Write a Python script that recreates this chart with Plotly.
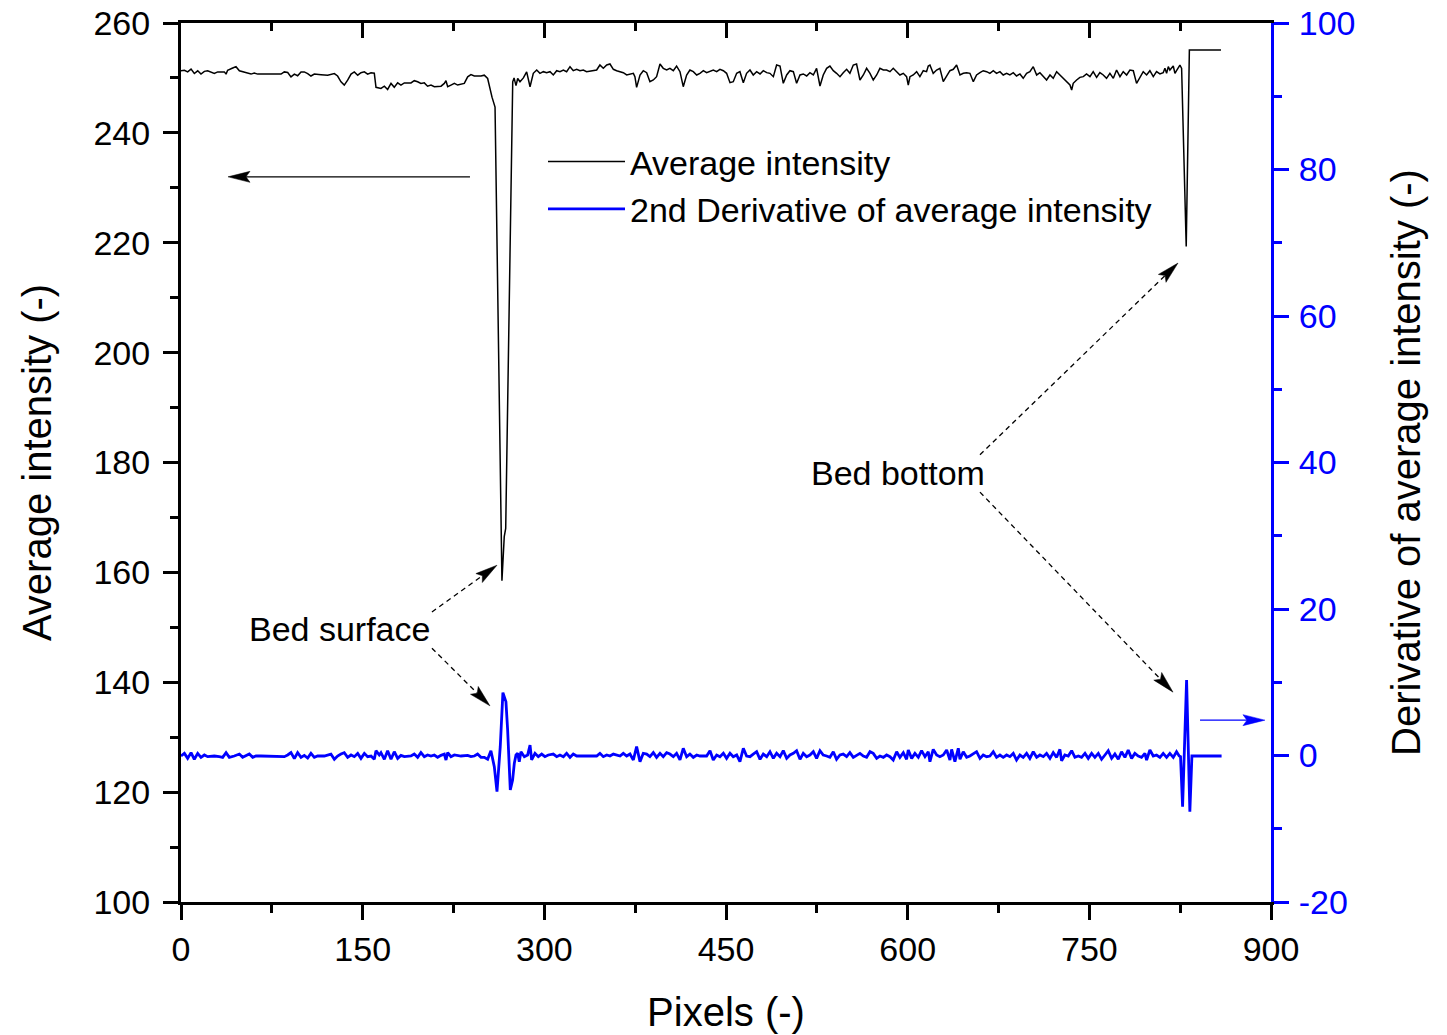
import plotly.graph_objects as go

# ---------------- data ----------------
intensity_x = [
    0, 2.8, 5.5, 8.3, 11.0, 13.8, 16.5, 19.3, 22.0, 24.8, 27.5, 30.3, 35.8, 37.2, 38.5, 42.7, 45.4, 48.2,
    52.3, 55.0, 57.8, 60.5, 63.3, 66.0, 82.6, 85.3, 88.1, 90.8, 93.6, 96.3, 99.1, 101.8, 104.6, 107.3,
    110.1, 115.6, 121.1, 126.6, 129.3, 132.1, 134.8, 137.6, 140.4, 143.1, 145.9, 148.6, 151.4, 154.1,
    156.9, 159.6, 161.0, 165.1, 167.9, 170.6, 173.4, 176.1, 178.9, 181.6, 184.4, 189.9, 192.6, 195.4,
    198.1, 200.9, 203.6, 206.4, 209.2, 214.7, 217.4, 218.8, 220.2, 222.9, 225.7, 228.4, 233.9, 236.7,
    239.4, 242.2, 247.7, 250.4, 253.2, 256.8, 259.3, 265.0, 266.9, 268.1, 273.9, 275.0, 276.6, 278.0,
    279.9, 282.7, 285.4, 288.2,
    290.9, 293.7, 296.4, 299.2, 301.9, 304.7, 307.4, 310.2, 312.9, 315.7, 318.4, 321.2, 323.9, 326.7,
    329.4, 332.2, 334.9, 343.2, 345.9, 348.7, 351.5, 354.2, 357.0, 359.7, 362.5, 365.2, 368.0, 370.7,
    373.5, 374.8, 376.2, 379.0, 381.7, 384.5, 387.2, 390.0, 392.7, 395.5, 398.2, 401.0, 403.7, 406.5,
    409.2, 412.0, 414.7, 417.5, 420.2, 423.0, 425.8, 428.5, 431.3, 434.0, 436.8, 439.5, 442.3, 445.0,
    447.8, 450.5, 453.3, 456.0, 458.8, 461.5, 464.3, 467.0, 469.8, 472.5, 475.3, 478.1, 480.8, 483.6,
    486.3, 489.1, 491.8, 494.6, 497.3, 500.1, 502.8, 505.6, 508.3, 511.1, 513.8, 516.6, 519.3, 522.1,
    524.8, 527.6, 530.3, 533.1, 535.8, 538.6, 541.3, 544.1, 546.8, 549.6, 552.3, 555.1, 557.8,
    560.6, 563.4, 566.1, 568.9, 571.6, 574.4, 577.1, 579.9, 582.6, 585.4, 588.1, 590.9, 593.6, 596.4,
    599.1, 600.5, 601.9, 604.6, 607.4, 610.1, 612.9, 615.6, 617.0, 618.4, 621.1, 623.9, 626.6, 629.4,
    632.2, 634.9, 637.7, 640.4, 643.2, 645.9, 648.7, 651.4, 654.2, 656.9, 659.7, 662.4, 665.2, 667.9,
    670.7, 673.4, 676.2, 678.9, 681.7, 684.4, 687.2, 689.9, 692.7, 695.4, 698.2, 700.9, 703.7, 706.5,
    709.2, 712.0, 714.7, 717.5, 720.2, 723.0, 725.7, 728.5, 731.2, 734.0, 735.4, 736.7, 739.5, 742.2,
    745.0, 747.7, 750.5, 753.2, 756.0, 758.7, 761.5, 764.2, 767.0, 769.8, 772.5, 775.3, 778.0, 780.8,
    783.5, 786.3, 789.0, 791.8, 794.5, 797.3, 800.0, 802.8, 805.5, 808.3, 811.0, 812.4, 813.8, 815.2,
    816.5, 819.3, 820.7, 822.0, 824.8, 826.2, 830.0, 832.6, 858.7,
]
intensity_y = [
    251.3, 251.4, 251.1, 251.6, 250.8, 251.3, 250.7, 251.2, 251.3, 251.1, 250.8, 251.1, 251.1, 250.7, 251.4, 251.8, 252.05, 251.3,
    251.1, 250.9, 250.7, 250.9, 250.7, 250.7, 250.7, 251.1, 251.0, 250.2, 250.7, 250.4, 251.1, 251.1, 250.8, 250.35,
    250.7, 250.6, 250.5, 250.8, 250.35, 249.3, 248.7, 249.6, 250.7, 251.1, 250.5, 250.95, 251.1, 250.7,
    250.95, 250.85, 248.3, 248.1, 248.5, 247.9, 249.0, 248.3, 249.1, 248.7, 249.1, 249.1, 249.5, 249.3,
    249.0, 249.1, 248.5, 248.7, 248.4, 248.5, 249.0, 249.5, 248.4, 248.7, 249.0, 248.7, 249.0, 250.2,
    250.6, 250.35, 250.35, 250.5, 249.9, 246.5, 244.7, 158.5, 166.5, 168.0, 249.3, 250.0, 248.6, 249.9,
    249.3, 250.0, 251.1, 248.4,
    250.84, 251.44, 250.84, 251.14, 250.96, 251.14, 250.54, 251.32, 251.14, 251.44, 251.14, 252.05, 251.32, 251.57,
    251.32, 251.44, 251.14, 251.44, 252.35, 251.75, 252.35, 252.54, 251.57, 251.32, 251.14, 250.96, 250.54, 250.72,
    250.84, 250.23, 248.29, 250.54, 251.32, 250.96, 249.32, 249.63, 250.23, 252.54, 251.75, 251.44, 251.75, 251.32,
    252.17, 251.14, 248.41, 250.54, 251.44, 251.14, 250.54, 250.84, 251.32, 250.96, 251.14, 251.44, 251.14, 251.57,
    251.32, 250.84, 249.14, 249.32, 250.84, 251.14, 249.14, 250.84, 251.44, 250.54, 251.14, 250.72, 251.32, 250.96,
    250.84, 250.23, 252.35, 252.17, 249.02, 250.54, 251.32, 251.14, 249.02, 250.54, 250.72, 250.35, 250.96, 250.54,
    251.75, 248.53, 250.54, 251.75, 252.17, 251.32, 250.84, 250.23, 250.96, 251.57, 250.84, 252.35, 252.54,
    249.63, 250.54, 251.75, 250.84, 249.63, 250.54, 251.75, 251.44, 251.44, 251.14, 251.75, 251.14, 250.54, 250.84,
    250.23, 248.71, 250.23, 250.54, 251.14, 250.23, 251.32, 251.14, 252.17, 252.35, 250.84, 251.44, 251.75, 249.32,
    250.23, 251.32, 251.57, 252.35, 250.54, 250.84, 250.96, 250.84, 249.32, 250.54, 250.96, 251.32, 251.14, 250.84,
    251.32, 250.84, 251.14, 250.54, 250.84, 250.54, 250.96, 250.35, 250.72, 249.93, 250.84, 251.14, 252.05, 250.54,
    250.96, 250.23, 249.63, 250.54, 249.93, 251.14, 250.54, 249.93, 249.32, 248.71, 247.80, 249.02, 249.63, 250.11,
    250.23, 250.72, 250.23, 251.14, 250.11, 250.96, 250.54, 249.93, 250.84, 249.93, 251.44, 250.23, 251.14, 250.54,
    251.44, 251.32, 249.02, 250.23, 251.14, 250.54, 251.32, 250.23, 251.14, 250.72, 250.96, 251.75, 250.84, 252.05,
    251.44, 252.17, 250.84, 251.32, 252.35, 251.75, 219.3, 255.1, 255.1,
]

deriv_x = [
    0, 2.8, 5.5, 8.3, 11.0, 13.8, 16.5, 19.3, 22.0, 24.8, 27.5, 31.6, 34.4, 37.2, 39.9, 44.0, 48.2, 50.9,
    53.7, 56.4, 59.2, 61.9, 66.0, 82.6, 85.3, 88.1, 90.8, 93.6, 96.3, 99.1, 101.8, 104.6, 107.3, 110.1,
    112.8, 118.3, 123.8, 126.6, 129.3, 132.1, 134.8, 137.6, 140.4, 143.1, 145.9, 148.6, 151.4, 154.1,
    156.9, 159.6, 161.0, 163.7, 165.1, 167.9, 170.6, 173.4, 176.1, 178.9, 181.6, 184.4, 189.9, 192.6,
    195.4, 198.1, 200.9, 203.6, 206.4, 209.2, 211.9, 214.7, 217.4, 218.8, 220.2, 222.9, 225.7, 231.2,
    236.7, 239.4, 242.2, 244.9, 247.7, 250.4, 253.2, 255.9, 258.7, 260.9, 263.6, 265.8, 268.3, 269.7,
    271.9, 273.8, 275.2, 276.6, 278.0, 279.3, 280.7, 283.5, 286.2, 288.2, 289.5,
    292.3, 295.0, 297.8, 300.5, 303.3, 307.4, 310.2, 312.9, 315.7, 318.4, 321.2, 323.9, 326.7, 332.2,
    343.2, 345.9, 348.7, 351.5, 354.2, 357.0, 359.7, 362.5, 365.2, 368.0, 370.7, 373.5, 376.2, 379.0,
    381.7, 384.5, 387.2, 390.0, 392.7, 395.5, 398.2, 401.0, 403.7, 406.5, 409.2, 412.0, 414.7, 417.5,
    420.2, 423.0, 425.8, 428.5, 434.0, 436.8, 439.5, 442.3, 445.0, 447.8, 450.5, 453.3, 456.0, 458.8,
    461.5, 464.3, 467.0, 469.8, 472.5, 475.3, 478.1, 480.8, 483.6, 486.3, 489.1, 491.8, 494.6, 497.3,
    500.1, 502.8, 505.6, 508.3, 511.1, 513.8, 516.6, 519.3, 522.1, 524.8, 527.6, 530.3, 533.1, 535.8,
    538.6, 541.3, 544.1, 546.8, 549.6, 552.3, 555.1, 557.8,
    560.6, 563.4, 566.1, 568.9, 571.6, 574.4, 577.1, 579.9, 582.6, 585.4, 588.1, 590.9, 593.6, 596.4,
    599.1, 600.5, 603.3, 606.0, 608.8, 611.5, 614.3, 617.0, 618.4, 621.1, 623.9, 626.6, 629.4, 632.2,
    634.9, 636.3, 639.0, 641.8, 643.2, 645.9, 648.7, 651.4, 656.9, 659.7, 662.4, 665.2, 667.9, 670.7,
    673.4, 676.2, 678.9, 681.7, 684.4, 687.2, 689.9, 692.7, 695.4, 698.2, 700.9, 703.7, 706.5, 709.2,
    712.0, 714.7, 717.5, 720.2, 723.0, 725.7, 727.1, 729.8, 732.6, 735.4, 738.1, 740.9, 743.6, 746.4,
    749.1, 751.9, 754.6, 757.4, 760.1, 762.9, 765.6, 768.4, 771.1, 773.9, 776.6, 779.4, 782.1, 784.9,
    787.6, 790.4, 793.1, 795.9, 797.3, 800.0, 802.8, 805.5, 808.3, 811.0, 813.8, 816.5, 819.3, 822.0,
    824.2, 825.3, 827.0, 830.3, 833.0, 834.7, 859.2,
]
deriv_y = [
    -0.07, 0.29, -0.39, 0.39, -0.52, 0.29, -0.25, 0.07, -0.16, -0.07, -0.07, -0.16, -0.25, 0.39, -0.25, -0.07, 0.2, -0.25,
    -0.07, 0.2, -0.25, -0.07, -0.07, -0.07, -0.16, 0.07, 0.39, -0.43, 0.39, -0.25, 0.02, -0.34, 0.29, -0.25,
    -0.07, -0.07, 0.2, -0.52, -0.07, 0.2, 0.39, -0.25, 0.07, -0.16, 0.29, -0.39, 0.29, -0.16,
    -0.07, -0.52, 0.66, 0.07, 0.39, -0.52, 0.66, -0.52, 0.52, -0.39, 0.02, -0.16, -0.07, 0.2,
    -0.25, 0.39, -0.16, 0.07, -0.07, 0.07, -0.25, 0.02, 0.2, -0.62, 0.39, -0.16, 0.07, -0.07,
    0.02, -0.16, -0.07, 0.2, -0.25, -0.25, -0.52, 0.66, -1.53, -4.94, 1.2, 8.58, 7.35, 3.48,
    -4.71, -3.35, -1.07, 0.07, 0.29, -0.84, 0.52, -0.16, 0.07, 1.43, -0.61,
    0.3, -0.16, 0.2, -0.16, 0.07, 0.2, -0.16, 0.07, -0.16, 0.3, -0.25, 0.2, -0.07, -0.07,
    -0.07, 0.3, -0.16, 0.07, -0.07, 0.2, 0.07, -0.07, 0.3, -0.07, 0.2, -0.61, 1.21, -0.84,
    0.3, 0.2, -0.16, 0.39, -0.25, 0.3, -0.16, 0.39, 0.2, -0.16, 0.3, -0.61, 0.98, -0.16,
    0.2, -0.25, 0.07, -0.07, -0.07, 0.66, -0.61, 0.07, -0.16, 0.3, -0.39, 0.3, -0.16, 0.07,
    -0.84, 0.98, -0.07, -0.16, 0.2, 0.52, -0.52, 0.2, -0.16, 0.52, -0.39, 0.3, -0.16, 0.66,
    -0.39, 0.07, 0.3, 0.66, -0.52, 0.3, -0.16, 0.07, 0.52, -0.39, 0.66, 0.07, -0.07, -0.25,
    0.52, -0.52, 0.07, 0.2, -0.16, 0.39, -0.25, 0.07,
    0.29, -0.07, -0.25, 0.52, 0.29, -0.39, -0.07, -0.25, 0.07, -0.16, -0.62, 0.52, -0.25, 0.39,
    -0.52, 0.75, -0.39, 0.29, -0.25, 0.66, -0.16, 0.52, -0.84, 0.84, 0.07, -0.16, 0.07, 0.75,
    -0.62, 0.84, -0.84, 0.98, -0.52, 0.52, -0.25, -0.07, 0.52, -0.39, 0.07, -0.16, -0.07, 0.52,
    -0.25, 0.07, -0.25, 0.07, -0.16, 0.29, -0.62, 0.07, -0.25, 0.29, -0.39, 0.52, -0.25, 0.07,
    -0.16, 0.29, -0.39, 0.39, -0.25, 0.84, -0.71, 0.07, -0.07, 0.66, -0.25, -0.07, -0.25, 0.29,
    -0.39, 0.29, -0.25, 0.29, -0.52, 0.07, 0.66, -0.39, 0.2, -0.52, 0.52, -0.25, 0.75, -0.39,
    0.29, -0.07, -0.25, 0.29, -0.62, 0.75, -0.07, 0.07, -0.25, 0.29, -0.25, 0.29, -0.25, 0.52,
    -0.07, -0.16, -6.99, 10.31, -7.67, -0.07, -0.07,
]

x_ticks = [0, 150, 300, 450, 600, 750, 900]
left_ticks = [100, 120, 140, 160, 180, 200, 220, 240, 260]
right_ticks = [-20, 0, 20, 40, 60, 80, 100]
right_tick_text = ["-20", "0", "20", "40", "60", "80", "100"]

# annotation arrows: (tail_x, tail_y, head_x, head_y) in x / left-y units
arrow_left = (238.6, 232.0, 38.8, 232.0)
arrow_right = (841.4, 133.1, 895.0, 133.1)
dashed_arrows = [
    (207.2, 152.8, 260.9, 161.3),
    (207.2, 146.2, 255.1, 135.7),
    (659.7, 181.4, 823.2, 216.3),
    (659.7, 174.6, 819.1, 138.2),
]
labels = [("Bed surface", 130.5, 149.7), ("Bed bottom", 592.0, 178.1)]

# ---------------- geometry helpers ----------------
W, H = 1447, 1035
ML, MR, MT, MB = 181, 176, 23, 133
PW, PH = W - ML - MR, H - MT - MB
XR, YR = (0, 900), (100, 260)


def to_px(x, y):
    return (ML + (x - XR[0]) / (XR[1] - XR[0]) * PW,
            MT + (YR[1] - y) / (YR[1] - YR[0]) * PH)


def to_data(px, py):
    return (XR[0] + (px - ML) / PW * (XR[1] - XR[0]),
            YR[1] - (py - MT) / PH * (YR[1] - YR[0]))


def arrow_shapes(tx, ty, hx, hy, color, dash, width=1.3, L=22, hw=5.5, notch=4):
    ax, ay = to_px(tx, ty)
    bx, by = to_px(hx, hy)
    dx, dy = bx - ax, by - ay
    n = (dx ** 2 + dy ** 2) ** 0.5
    ux, uy = dx / n, dy / n
    nx, ny = -uy, ux
    basex, basey = bx - L * ux, by - L * uy
    backx, backy = bx - (L - notch) * ux, by - (L - notch) * uy
    pts = [(bx, by), (basex + hw * nx, basey + hw * ny), (backx, backy), (basex - hw * nx, basey - hw * ny)]
    pts = [to_data(*p) for p in pts]
    path = "M " + " L ".join(f"{p[0]:.3f},{p[1]:.3f}" for p in pts) + " Z"
    lx, ly = to_data(backx, backy)
    return [
        dict(type="line", xref="x", yref="y", x0=tx, y0=ty, x1=lx, y1=ly,
             line=dict(color=color, width=width, dash=dash)),
        dict(type="path", xref="x", yref="y", path=path, fillcolor=color,
             line=dict(color=color, width=0.5)),
    ]


FONT = "Liberation Sans, Arial, sans-serif"
BLUE = "#0000FF"

fig = go.Figure()
fig.add_trace(go.Scatter(x=intensity_x, y=intensity_y, mode="lines", name="Average intensity",
                         line=dict(color="black", width=1.5)))
fig.add_trace(go.Scatter(x=deriv_x, y=deriv_y, mode="lines", name="2nd Derivative of average intensity",
                         line=dict(color=BLUE, width=2.8), yaxis="y2"))
# empty trace that carries the top (mirror) tick axis
fig.add_trace(go.Scatter(x=[None], y=[None], xaxis="x2", yaxis="y", mode="lines",
                         showlegend=False, hoverinfo="skip"))

shapes = []
shapes += arrow_shapes(*arrow_left, "black", "solid")
shapes += arrow_shapes(*arrow_right, BLUE, "solid")
for a in dashed_arrows:
    shapes += arrow_shapes(*a, "black", "5px,4px")

annotations = [dict(text=t, x=x, y=y, xref="x", yref="y", showarrow=False,
                    font=dict(family=FONT, size=34, color="black")) for t, x, y in labels]

fig.update_layout(
    width=W, height=H,
    margin=dict(l=ML, r=MR, t=MT, b=MB, pad=0, autoexpand=False),
    paper_bgcolor="white", plot_bgcolor="white",
    font=dict(family=FONT, size=34, color="black"),
    showlegend=True,
    legend=dict(x=(543 - ML) / PW, y=1 - (133 - MT) / PH, xanchor="left", yanchor="top",
                bgcolor="rgba(0,0,0,0)", borderwidth=0, font=dict(size=34), itemwidth=77,
                tracegroupgap=0),
    xaxis=dict(range=list(XR), tickvals=x_ticks, ticks="outside", ticklen=15, tickwidth=3,
               tickcolor="black", showline=True, linecolor="black", linewidth=3, mirror=True,
               showgrid=False, zeroline=False, ticklabelstandoff=0, automargin=False,
               minor=dict(dtick=75, ticks="outside", ticklen=8, tickwidth=3, tickcolor="black", showgrid=False),
               title=dict(text="Pixels (-)", font=dict(size=40), standoff=32)),
    xaxis2=dict(range=list(XR), overlaying="x", side="top", anchor="y", tickvals=x_ticks,
                ticks="inside", ticklen=15, tickwidth=3, tickcolor="black", showticklabels=False,
                showline=False, showgrid=False, zeroline=False, automargin=False,
                minor=dict(dtick=75, ticks="inside", ticklen=8, tickwidth=3, tickcolor="black", showgrid=False)),
    yaxis=dict(range=list(YR), tickvals=left_ticks, ticks="outside", ticklen=15, tickwidth=3,
               tickcolor="black", showline=True, linecolor="black", linewidth=3,
               showgrid=False, zeroline=False, ticklabelstandoff=6, automargin=False,
               minor=dict(dtick=10, ticks="outside", ticklen=8, tickwidth=3, tickcolor="black", showgrid=False),
               title=dict(text="Average intensity (-)", font=dict(size=40), standoff=30)),
    yaxis2=dict(range=[-20, 100], tickvals=right_ticks, ticktext=right_tick_text, overlaying="y",
                side="right", anchor="x",
                ticks="outside", ticklen=15, tickwidth=3, tickcolor=BLUE, showline=True,
                linecolor=BLUE, linewidth=3, showgrid=False, zeroline=False, ticklabelstandoff=3,
                automargin=False, tickfont=dict(color=BLUE, size=34),
                minor=dict(dtick=10, ticks="outside", ticklen=8, tickwidth=3, tickcolor=BLUE, showgrid=False),
                title=dict(text="Derivative of average intensity (-)", font=dict(size=40, color="black"),
                           standoff=38)),
    shapes=shapes,
    annotations=annotations,
)

fig.write_html("out.html", config={"displayModeBar": False},
               post_script="document.body.style.margin='0';document.body.style.overflow='hidden';")
